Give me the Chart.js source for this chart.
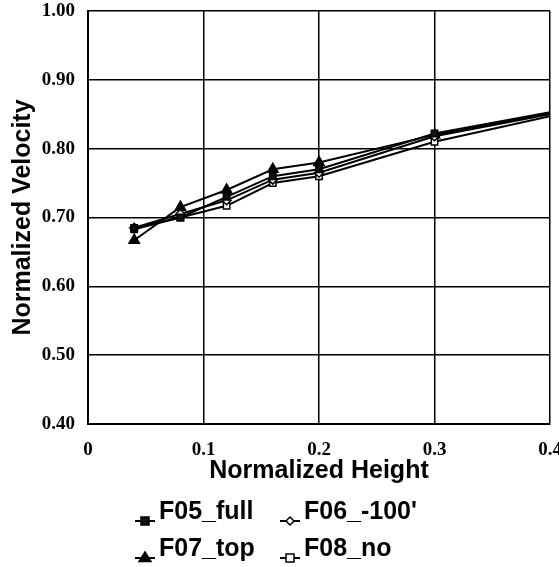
<!DOCTYPE html>
<html>
<head>
<meta charset="utf-8">
<script src="https://cdn.jsdelivr.net/npm/chart.js@4.4.1/dist/chart.umd.min.js"></script>
<style>
  html, body { margin: 0; padding: 0; background: #fff; overflow: hidden; }
  #wrap { width: 559px; height: 567px; }
</style>
</head>
<body>
<div id="wrap"><canvas id="grafico"></canvas></div>
<script>
// Alturas normalizadas
const alturas = [0.04, 0.08, 0.12, 0.16, 0.2, 0.3, 0.4];

// Velocidades normalizadas por caso
const f05Full = [0.685, 0.700, 0.730, 0.760, 0.770, 0.822, 0.853];
const f06Menos100 = [0.685, 0.705, 0.725, 0.755, 0.765, 0.818, 0.850];
const f07Top = [0.667, 0.715, 0.740, 0.770, 0.780, 0.820, 0.852];
const f08No = [0.683, 0.700, 0.717, 0.750, 0.760, 0.810, 0.847];

const etiquetas = ['F05_full', "F06_-100'", 'F07_top', 'F08_no'];

const ejeX = { min: 0, max: 0.4, paso: 0.1 };
const ejeY = { min: 0.4, max: 1.0, paso: 0.1 };

function serie(label, valores, estilo, relleno, radio) {
    return {
        label,
        data: alturas.map((x, i) => ({ x, y: valores[i] })),
        borderColor: '#000',
        borderWidth: 2,
        pointStyle: estilo,
        pointBackgroundColor: relleno,
        pointBorderColor: '#000',
        pointBorderWidth: 1.5,
        // el último punto queda en el borde, sin marcador
        pointRadius: alturas.map((x, i) => i === alturas.length - 1 ? 0 : radio),
        tension: 0,
        fill: false
    };
}

// Marcadores de la leyenda, dibujados a mano
function marcador(ctx, estilo, relleno, r, x, y) {
    ctx.save();
    ctx.fillStyle = relleno;
    ctx.strokeStyle = '#000';
    ctx.lineWidth = 1.5;
    ctx.beginPath();
    if (estilo === 'rect') {
        ctx.rect(x - r, y - r, 2 * r, 2 * r);
    } else if (estilo === 'rectRot') {
        ctx.moveTo(x, y - r); ctx.lineTo(x + r, y); ctx.lineTo(x, y + r); ctx.lineTo(x - r, y); ctx.closePath();
    } else if (estilo === 'triangle') {
        ctx.moveTo(x, y - r); ctx.lineTo(x + r, y + r * 0.6); ctx.lineTo(x - r, y + r * 0.6); ctx.closePath();
    }
    ctx.fill();
    ctx.stroke();
    ctx.restore();
}

const leyendaPlugin = {
    id: 'leyenda',
    afterDraw(chart) {
        const ctx = chart.ctx;
        const colX = [145, 290];
        const filaY = [512, 549];
        ctx.save();
        ctx.font = 'bold 25px "Liberation Sans", Arial, sans-serif';
        ctx.fillStyle = '#000';
        ctx.textBaseline = 'middle';
        chart.data.datasets.forEach((ds, i) => {
            const cx = colX[i % 2];
            const ty = filaY[Math.floor(i / 2)];
            const my = ty + 9;
            ctx.strokeStyle = '#000';
            ctx.lineWidth = 2;
            ctx.beginPath();
            ctx.moveTo(cx - 10, my);
            ctx.lineTo(cx + 10, my);
            ctx.stroke();
            marcador(ctx, ds.pointStyle, ds.pointBackgroundColor, ds.pointStyle === 'triangle' ? 6 : 4, cx, my);
            ctx.fillText(ds.label, cx + 14, ty);
        });
        ctx.restore();
    }
};

const ctx = document.getElementById('grafico').getContext('2d');

window.graficoVelocidad = new Chart(ctx, {
    type: 'line',
    data: {
        datasets: [
            serie(etiquetas[0], f05Full, 'rect', '#111', 4.5),
            serie(etiquetas[1], f06Menos100, 'rectRot', '#fff', 4.5),
            serie(etiquetas[2], f07Top, 'triangle', '#000', 6),
            serie(etiquetas[3], f08No, 'rect', '#fff', 4.5)
        ]
    },
    options: {
        responsive: true,
        maintainAspectRatio: false,
        animation: false,
        layout: { padding: { top: 11, right: 9, bottom: 73, left: 0 } },
        plugins: {
            legend: { display: false },
            tooltip: { enabled: false }
        },
        scales: {
            x: {
                type: 'linear',
                min: ejeX.min,
                max: ejeX.max,
                afterFit(scale) {
                    scale.height = 70;
                    scale.paddingLeft = 0;
                    scale.paddingRight = 0;
                },
                ticks: {
                    stepSize: ejeX.paso,
                    padding: 15,
                    color: '#000',
                    font: { family: '"Liberation Serif", "Times New Roman", serif', size: 19, weight: 'bold' },
                    callback: v => v === 0 ? '0' : v.toFixed(1)
                },
                grid: { color: '#000', lineWidth: 1.5, drawTicks: false },
                border: { color: '#000', width: 2 },
                title: {
                    display: true,
                    text: 'Normalized Height',
                    color: '#000',
                    padding: { top: 0, bottom: 8 },
                    font: { family: '"Liberation Sans", Arial, sans-serif', size: 25, weight: 'bold' }
                }
            },
            y: {
                min: ejeY.min,
                max: ejeY.max,
                afterFit(scale) {
                    scale.width = 88;
                    scale.paddingTop = 0;
                    scale.paddingBottom = 0;
                },
                ticks: {
                    stepSize: ejeY.paso,
                    padding: 13,
                    color: '#000',
                    font: { family: '"Liberation Serif", "Times New Roman", serif', size: 19, weight: 'bold' },
                    callback: v => v.toFixed(2)
                },
                grid: { color: '#000', lineWidth: 1.5, drawTicks: false },
                border: { color: '#000', width: 2 },
                title: {
                    display: true,
                    text: 'Normalized Velocity',
                    color: '#000',
                    padding: { top: 8, bottom: 0 },
                    font: { family: '"Liberation Sans", Arial, sans-serif', size: 25, weight: 'bold' }
                }
            }
        }
    },
    plugins: [leyendaPlugin]
});
</script>
</body>
</html>
